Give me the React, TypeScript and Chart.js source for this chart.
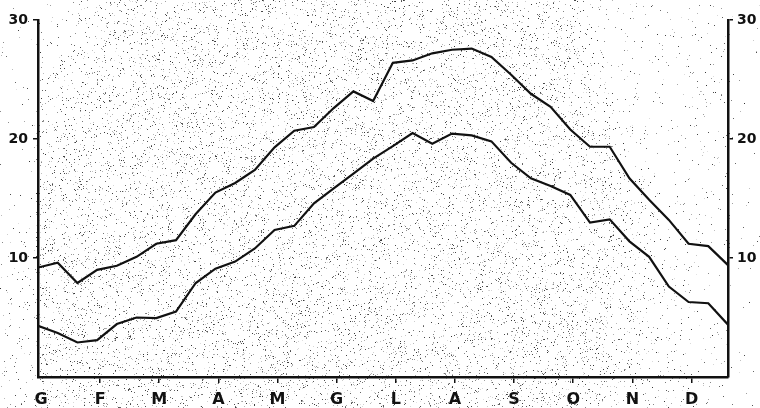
import { useEffect, useRef } from "react";
import { Chart, registerables } from "chart.js";

Chart.register(...registerables);

// Italian month initials (Gennaio ... Dicembre)
const monthLabels = ["G", "F", "M", "A", "M", "G", "L", "A", "S", "O", "N", "D"];
// 36 ten-day periods (decadi) across the year
const decadeIndex = Array.from({ length: 36 }, (_, i) => i);
// upper curve (maximum temperature, °C)
const upperTemps = [
  9.2, 9.6, 7.9, 9.0, 9.35, 10.1, 11.2, 11.5, 13.7, 15.5, 16.3, 17.4,
  19.3, 20.7, 21.0, 22.6, 24.0, 23.2, 26.4, 26.6, 27.2, 27.5, 27.6, 26.9,
  25.4, 23.8, 22.7, 20.8, 19.35, 19.35, 16.7, 14.9, 13.2, 11.2, 11.0, 9.4,
];
// lower curve (minimum temperature, °C)
const lowerTemps = [
  4.3, 3.7, 2.9, 3.1, 4.45, 5.0, 4.95, 5.5, 7.9, 9.1, 9.7, 10.8,
  12.35, 12.7, 14.6, 15.85, 17.1, 18.35, 19.4, 20.5, 19.6, 20.45, 20.3, 19.8,
  18.0, 16.7, 16.05, 15.3, 12.97, 13.25, 11.4, 10.1, 7.6, 6.3, 6.2, 4.4,
];
const yTickValues = [10, 20, 30];

const FONT = "'DejaVu Sans', 'Liberation Sans', Arial, sans-serif";

const stipplePlugin = {
  id: "stipple",
  beforeDraw(chart: any) {
    const { ctx, width, height } = chart;
    const img = ctx.createImageData(width, height);
    const d = img.data;
    let seed = 987654321;
    const rnd = () => {
      seed = (Math.imul(seed, 1664525) + 1013904223) >>> 0;
      return seed / 4294967296;
    };
    const smooth = (a: number, b: number, v: number) => {
      const t = Math.min(1, Math.max(0, (v - a) / (b - a)));
      return t * t * (3 - 2 * t);
    };
    for (let y = 0; y < height; y++) {
      for (let x = 0; x < width; x++) {
        let f = smooth(20, 140, x + 0.35 * y);
        f *= 1 - 0.85 * smooth(540, 610, x - 0.3 * y);
        f *= 1 - 0.55 * smooth(590, 650, x) * smooth(230, 290, y);
        if (x < 36) f *= 0.15;
        if (x > 730) f *= 0.12;
        const p = 0.055 * f + 0.003;
        let v = 255;
        if (rnd() < p) v = 50 + Math.floor(rnd() * 180);
        const i = (y * width + x) * 4;
        d[i] = v;
        d[i + 1] = v;
        d[i + 2] = v;
        d[i + 3] = 255;
      }
    }
    ctx.putImageData(img, 0, 0);
  },
};

export default function App() {
  const ref = useRef<HTMLCanvasElement | null>(null);

  useEffect(() => {
    if (!ref.current) return;
    const chart = new Chart(ref.current, {
      type: "line",
      data: {
        datasets: [
          {
            label: "max",
            data: decadeIndex.map((i) => ({ x: i, y: upperTemps[i] })),
            borderColor: "#111",
            borderWidth: 2.2,
            pointRadius: 0,
            tension: 0,
            fill: false,
          },
          {
            label: "min",
            data: decadeIndex.map((i) => ({ x: i, y: lowerTemps[i] })),
            borderColor: "#111",
            borderWidth: 2.2,
            pointRadius: 0,
            tension: 0,
            fill: false,
          },
        ],
      },
      options: {
        responsive: false,
        animation: false,
        layout: { padding: { top: 20, left: 0, right: 0, bottom: 0 } },
        plugins: { legend: { display: false }, tooltip: { enabled: false } },
        scales: {
          x: {
            type: "linear",
            min: 0,
            max: 35,
            afterBuildTicks: (scale: any) => {
              scale.ticks = monthLabels.map((_, k) => ({ value: 3 * k + 0.15 }));
            },
            afterFit: (scale: any) => {
              scale.height = 31;
            },
            ticks: {
              autoSkip: false,
              maxRotation: 0,
              color: "#111",
              padding: 7,
              font: { family: FONT, size: 16, weight: "bold" },
              callback: (_v: any, index: number) => monthLabels[index],
            },
            grid: {
              drawOnChartArea: false,
              drawTicks: true,
              tickLength: 6,
              lineWidth: 1.5,
              color: (c: any) => (c.index === 0 ? "rgba(0,0,0,0)" : "#111"),
            },
            border: { display: true, color: "#111", width: 2.5 },
          },
          y: {
            position: "left",
            min: 0,
            max: 30,
            afterBuildTicks: (scale: any) => {
              scale.ticks = yTickValues.map((v) => ({ value: v }));
            },
            afterFit: (scale: any) => {
              scale.width = 38;
            },
            ticks: {
              color: "#111",
              padding: 5,
              font: { family: FONT, size: 14, weight: "bold" },
              callback: (v: any) => String(v),
            },
            grid: {
              drawOnChartArea: false,
              drawTicks: true,
              tickLength: 5,
              lineWidth: 1.5,
              color: "#111",
            },
            border: { display: true, color: "#111", width: 2.5 },
          },
          y2: {
            position: "right",
            min: 0,
            max: 30,
            afterBuildTicks: (scale: any) => {
              scale.ticks = yTickValues.map((v) => ({ value: v }));
            },
            afterFit: (scale: any) => {
              scale.width = 32;
            },
            ticks: {
              color: "#111",
              padding: 4,
              font: { family: FONT, size: 14, weight: "bold" },
              callback: (v: any) => String(v),
            },
            grid: {
              drawOnChartArea: false,
              drawTicks: true,
              tickLength: 5,
              lineWidth: 1.5,
              color: "#111",
            },
            border: { display: true, color: "#111", width: 2.5 },
          },
        },
      },
      plugins: [stipplePlugin],
    } as any);
    return () => chart.destroy();
  }, []);

  return (
    <div style={{ position: "absolute", left: 0, top: 0, width: 760, height: 408 }}>
      <canvas ref={ref} width={760} height={408} />
    </div>
  );
}
